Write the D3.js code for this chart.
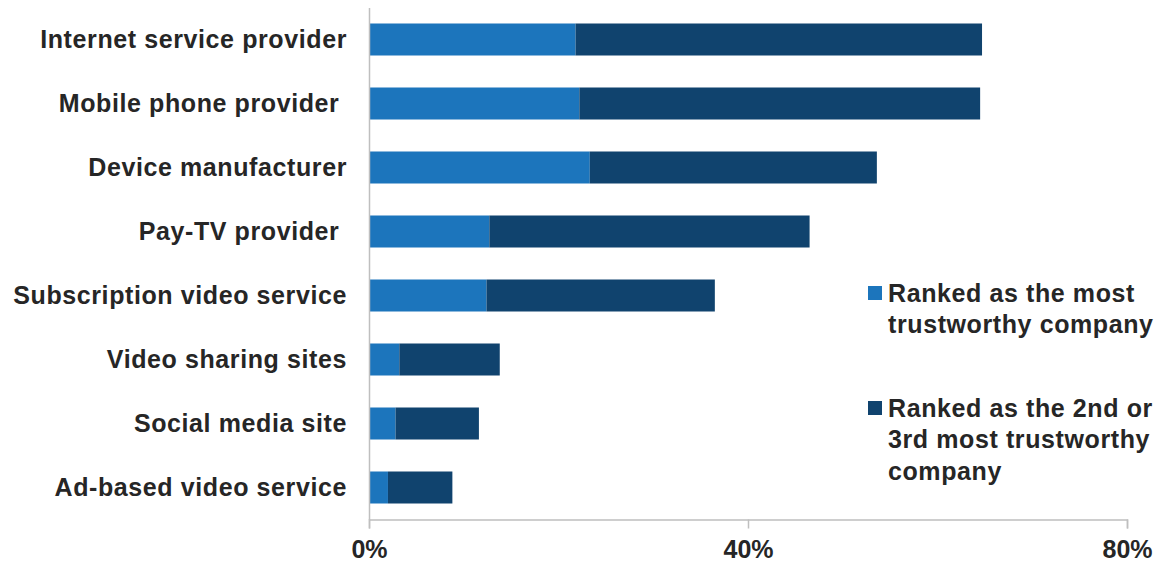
<!DOCTYPE html>
<html><head><meta charset="utf-8">
<script src="https://cdn.jsdelivr.net/npm/d3@7"></script>
<style>
html,body{margin:0;padding:0;background:#fff;}
svg text{font-family:Arial,"Liberation Sans",sans-serif;font-weight:bold;fill:#262626;}
</style></head><body>
<svg id="c" width="1157" height="565"></svg>
<script>
const categories = ["Internet service provider","Mobile phone provider ","Device manufacturer","Pay-TV provider ","Subscription video service","Video sharing sites","Social media site","Ad-based video service"];
const mostTrust = [21.8, 22.2, 23.3, 12.7, 12.4, 3.2, 2.8, 2.0];
const secondThird = [42.9, 42.3, 30.3, 33.8, 24.1, 10.6, 8.8, 6.8];
const seriesNames = ["Ranked as the most trustworthy company","Ranked as the 2nd or 3rd most trustworthy company"];
const legendLines = [["Ranked as the most","trustworthy company"],["Ranked as the 2nd or","3rd most trustworthy","company"]];
const tickValues = [0, 40, 80];
const colors = ["#1c75bc","#10436e"];

const svg = d3.select("#c");
const mLeft = 369, mRight = 1127, mTop = 7.5, mBottom = 519.5;
const x = d3.scaleLinear().domain([0,80]).range([mLeft,mRight]);
const y = d3.scaleBand().domain(categories).range([mTop,mBottom]).paddingInner(0.5).paddingOuter(0.25);

const data = categories.map((c,i)=>({cat:c, v:[mostTrust[i], secondThird[i]]}));
const stack = d3.stack().keys([0,1]).value((d,k)=>d.v[k]);
const series = stack(data);

svg.append("g").selectAll("g").data(series).join("g")
  .attr("fill",(d,i)=>colors[i])
  .selectAll("rect").data(d=>d).join("rect")
  .attr("x",d=>x(d[0])).attr("width",d=>x(d[1])-x(d[0]))
  .attr("y",d=>y(d.data.cat)).attr("height",y.bandwidth());

// axes
const gx = svg.append("g").attr("transform",`translate(0,${mBottom})`)
  .call(d3.axisBottom(x).tickValues(tickValues).tickSize(9).tickPadding(12).tickFormat(d=>d+"%"));
gx.select(".domain").attr("stroke","#bfbfbf").attr("stroke-width",1.5);
gx.selectAll(".tick line").attr("stroke","#bfbfbf").attr("stroke-width",1.5);
gx.selectAll(".tick text").attr("font-size",25).attr("fill","#262626");

const gy = svg.append("g").attr("transform",`translate(${mLeft},0)`)
  .call(d3.axisLeft(y).tickSize(0).tickPadding(22));
gy.select(".domain").attr("stroke","#bfbfbf").attr("stroke-width",1.5);
gy.selectAll(".tick text").attr("font-size",25).attr("fill","#262626")
  .style("white-space","pre").style("letter-spacing","0.6px");

// legend
const lg = svg.append("g");
const legendY = [293, 408];
legendLines.forEach((lines,i)=>{
  lg.append("rect").attr("x",868).attr("y",legendY[i]-7).attr("width",14).attr("height",14).attr("fill",colors[i]);
  lines.forEach((t,j)=>{
    lg.append("text").attr("x",888).attr("y",legendY[i]+j*31.5).attr("dy","0.35em")
      .attr("font-size",25).style("letter-spacing","0.6px").text(t);
  });
});
</script>
</body></html>
